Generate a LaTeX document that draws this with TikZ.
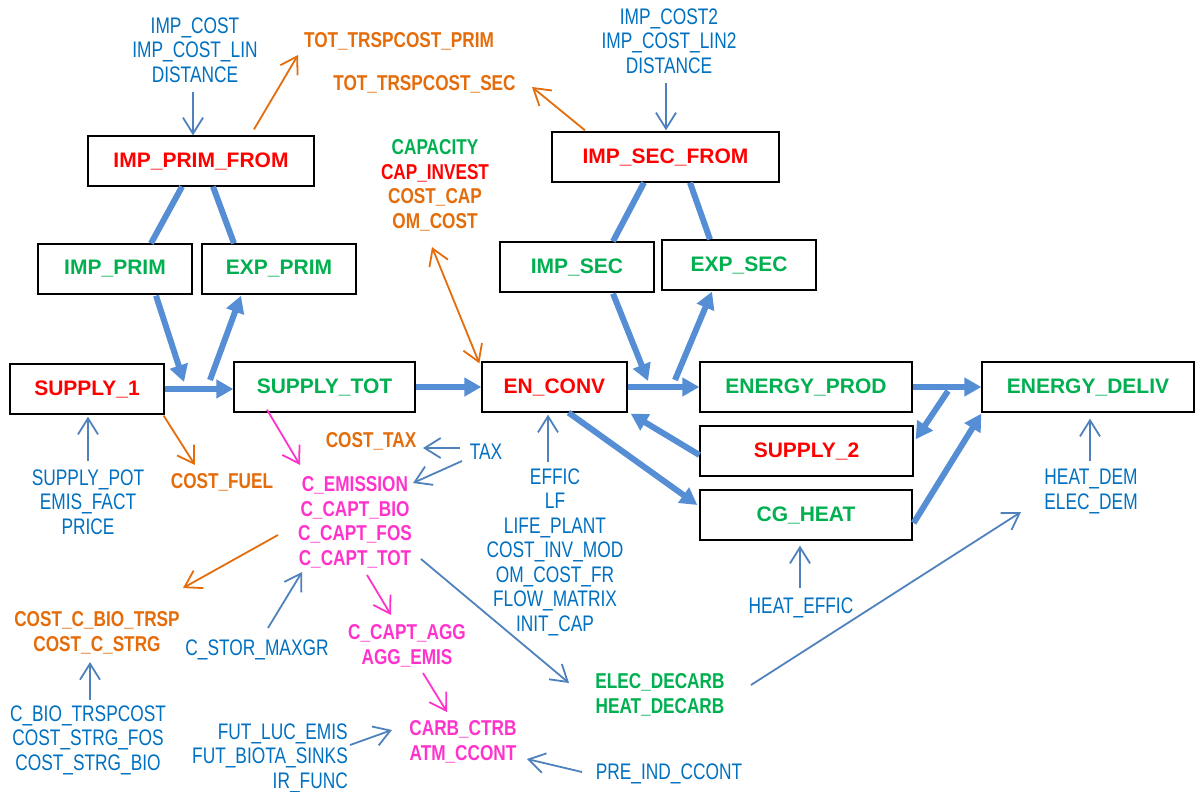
\documentclass[tikz,border=0pt]{standalone}
\usepackage{fontspec}
\setmainfont{Liberation Sans}
\newfontfamily\narrowsans{Liberation Sans}[FakeStretch=0.8]
\newfontfamily\slimsans{Liberation Sans}[FakeStretch=0.77]
\usetikzlibrary{arrows.meta,calc}

\definecolor{flowblue}{RGB}{85,142,213}
\definecolor{linkblue}{RGB}{79,129,189}
\definecolor{parblue}{RGB}{0,112,192}
\definecolor{vargreen}{RGB}{0,176,80}
\definecolor{varred}{RGB}{255,0,0}
\definecolor{costorange}{RGB}{228,108,10}
\definecolor{carbpink}{RGB}{255,51,204}

\tikzset{
  box/.style={draw=black, line width=1.3pt, minimum height=50pt, inner sep=0pt,
    font=\fontsize{21}{24}\selectfont\bfseries},
  lbl/.style={inner sep=0pt, anchor=north, align=center,
    font=\slimsans\fontsize{22.5}{24.5}\selectfont},
  param/.style={lbl, text=parblue},
  outv/.style={lbl, font=\narrowsans\fontsize{21.5}{24.5}\selectfont\bfseries},
  mainlink/.style={draw=flowblue, line width=6pt},
  mainflow/.style={mainlink, -{Triangle[length=17pt,width=18pt]}},
  thinarr/.style={line width=1.8pt, -{Straight Barb[length=16pt,width=20pt]}},
  parlink/.style={thinarr, draw=linkblue},
  costlink/.style={thinarr, draw=costorange},
  carblink/.style={thinarr, draw=carbpink},
}

\begin{document}
\begin{tikzpicture}[x=1pt,y=-1pt]
\useasboundingbox (0,0) rectangle (1195,792);

% ---- model blocks ----
\node[box, minimum width=226pt, text=varred]   (ipf) at (201,161)   {IMP\_PRIM\_FROM};
\node[box, minimum width=154pt, text=vargreen] (ip)  at (115,269)   {IMP\_PRIM};
\node[box, minimum width=154pt, text=vargreen] (ep)  at (279,269)   {EXP\_PRIM};
\node[box, minimum width=227pt, text=varred]   (isf) at (665.5,157) {IMP\_SEC\_FROM};
\node[box, minimum width=154pt, text=vargreen] (is)  at (577,267)   {IMP\_SEC};
\node[box, minimum width=154pt, text=vargreen] (es)  at (739,265)   {EXP\_SEC};
\node[box, minimum width=154pt, text=varred]   (s1)  at (87,389)    {SUPPLY\_1};
\node[box, minimum width=181pt, text=vargreen] (st)  at (324.5,387) {SUPPLY\_TOT};
\node[box, minimum width=145pt, text=varred]   (ec)  at (554.5,387) {EN\_CONV};
\node[box, minimum width=212pt, text=vargreen] (epr) at (806,387)   {ENERGY\_PROD};
\node[box, minimum width=213pt, text=varred]   (s2)  at (806.5,451) {SUPPLY\_2};
\node[box, minimum width=212pt, text=vargreen] (cg)  at (806,515)   {CG\_HEAT};
\node[box, minimum width=212pt, text=vargreen] (ed)  at (1088,387)  {ENERGY\_DELIV};

% ---- parameters and derived variables ----
\node[param] (impcost) at (195,17.3) {IMP\_COST\\IMP\_COST\_LIN\\DISTANCE};
\node[outv, text=costorange] (trspprim) at (399,32.3) {TOT\_TRSPCOST\_PRIM};
\node[outv, text=costorange] (trspsec) at (424.5,75.3) {TOT\_TRSPCOST\_SEC};
\node[outv] (capblock) at (435,139.3) {\textcolor{vargreen}{CAPACITY}\\\textcolor{varred}{CAP\_INVEST}\\\textcolor{costorange}{COST\_CAP}\\\textcolor{costorange}{OM\_COST}};
\node[param] (impcost2) at (669,8.3) {IMP\_COST2\\IMP\_COST\_LIN2\\DISTANCE};
\node[param] (supplypot) at (88,469.3) {SUPPLY\_POT\\EMIS\_FACT\\PRICE};
\node[outv, text=costorange] (costfuel) at (222,473.3) {COST\_FUEL};
\node[outv, text=costorange] (costtax) at (371,432.3) {COST\_TAX};
\node[param] (tax) at (486,444.3) {TAX};
\node[outv, text=carbpink] (cemis) at (355,476.3) {C\_EMISSION\\C\_CAPT\_BIO\\C\_CAPT\_FOS\\C\_CAPT\_TOT};
\node[param] (effic) at (555,468.3) {EFFIC\\LF\\LIFE\_PLANT\\COST\_INV\_MOD\\OM\_COST\_FR\\FLOW\_MATRIX\\INIT\_CAP};
\node[param] (heateffic) at (801,597.3) {HEAT\_EFFIC};
\node[param] (heatdem) at (1091,469.3) {HEAT\_DEM\\ELEC\_DEM};
\node[outv, text=costorange] (costcbio) at (97,611.3) {COST\_C\_BIO\_TRSP\\COST\_C\_STRG};
\node[param] (cstor) at (257,639.3) {C\_STOR\_MAXGR};
\node[outv, text=carbpink] (ccaptagg) at (407,624.3) {C\_CAPT\_AGG\\AGG\_EMIS};
\node[param] (cbiotrsp) at (88,705.3) {C\_BIO\_TRSPCOST\\COST\_STRG\_FOS\\COST\_STRG\_BIO};
\node[param, anchor=north east, align=right] (futluc) at (348,723.3) {FUT\_LUC\_EMIS\\FUT\_BIOTA\_SINKS\\IR\_FUNC};
\node[outv, text=carbpink] (carbctrb) at (463,720.3) {CARB\_CTRB\\ATM\_CCONT};
\node[outv, text=vargreen] (elecdecarb) at (660,673.3) {ELEC\_DECARB\\HEAT\_DECARB};
\node[param] (preind) at (669,763.3) {PRE\_IND\_CCONT};

% ---- junction points on the main flows ----
\coordinate (m1) at (184,382);
\coordinate (m2) at (210,380);
\coordinate (m3) at (648,381);
\coordinate (m4) at (675,380);
\coordinate (m5) at (948,391);

% ---- energy flows ----
\draw[mainlink] ($(ipf.south)+(-19,0)$) -- ($(ip.north)+(36,0)$);
\draw[mainlink] ($(ipf.south)+(12,0)$) -- ($(ep.north)+(-45,0)$);
\draw[mainflow] ($(ip.south)+(41,1)$) -- (m1);
\draw[mainflow] (m2) -- ($(ep.south)+(-38,1)$);
\draw[mainflow] (s1.east) -- (s1.east -| st.west);
\draw[mainflow] (st.east) -- (ec.west);
\draw[mainflow] (ec.east) -- (epr.west);
\draw[mainlink] ($(isf.south)+(-21.5,0)$) -- ($(is.north)+(36,0)$);
\draw[mainlink] ($(isf.south)+(24.5,0)$) -- ($(es.north)+(-29,0)$);
\draw[mainflow] ($(is.south)+(36,1)$) -- (m3);
\draw[mainflow] (m4) -- ($(es.south)+(-27,1)$);
\draw[mainflow] (epr.east) -- (ed.west);
\draw[mainflow] (m5) -- ($(s2.north east)+(2,14)$);
\draw[mainflow] ($(s2.west)+(0,4)$) -- ($(ec.south east)+(3,1)$);
\draw[mainflow] ($(ec.south)+(14,0)$) -- ($(cg.west)+(-2,-10)$);
\draw[mainflow] ($(cg.east)+(1,8)$) -- ($(ed.south west)+(0,1)$);

% ---- parameter links ----
\draw[parlink] ($(impcost.north)+(-2,74.7)$) -- ($(ipf.north)+(-8,0)$);
\draw[parlink] ($(impcost2.north)+(-3,74.7)$) -- ($(isf.north)+(0.5,-1)$);
\draw[parlink] ($(supplypot.north)+(0,-8.3)$) -- ($(s1.south)+(1,2)$);
\draw[parlink] ($(effic.north)+(-7,-6.3)$) -- ($(ec.south)+(-6.5,2)$);
\draw[parlink] ($(heateffic.north)+(-1,-9.3)$) -- ($(cg.south)+(-6,5)$);
\draw[parlink] ($(heatdem.north)+(-1,-8.3)$) -- ($(ed.south)+(2,6)$);
\draw[parlink] ($(tax.north)+(-26,3.7)$) -- ($(costtax.north)+(52,15.7)$);
\draw[parlink] ($(tax.north)+(-24,16.7)$) -- ($(cemis.north)+(58,6.7)$);
\draw[parlink] ($(cstor.north)+(11,-11.3)$) -- ($(cemis.north)+(-53,95.7)$);
\draw[parlink] ($(cbiotrsp.north)+(2,-5.3)$) -- ($(costcbio.north)+(-7,50.7)$);
\draw[parlink] ($(futluc.north east)+(2,21.7)$) -- ($(carbctrb.north)+(-71,9.7)$);
\draw[parlink] ($(preind.north)+(-87,8.7)$) -- ($(carbctrb.north)+(64,38.7)$);
\draw[parlink] ($(cemis.north)+(66,82.7)$) -- ($(elecdecarb.north)+(-91,9.7)$);
\draw[parlink] ($(elecdecarb.north)+(91,11.7)$) -- ($(heatdem.north)+(-70,42.7)$);

% ---- cost links ----
\draw[costlink] ($(ipf.north)+(53,-6)$) -- ($(trspprim.north)+(-101,22.7)$);
\draw[costlink] ($(isf.north)+(-80.5,-1)$) -- ($(trspsec.north)+(107.5,11.7)$);
\draw[costlink, {Straight Barb[length=16pt,width=20pt]}-{Straight Barb[length=16pt,width=20pt]}] ($(capblock.north)+(-3,107.7)$) -- ($(ec.north west)+(-2,2)$);
\draw[costlink] ($(s1.south east)+(-1,1)$) -- ($(costfuel.north)+(-27,-8.3)$);
\draw[costlink] ($(cemis.north)+(-77,58.7)$) -- ($(costcbio.north)+(86,-23.3)$);

% ---- carbon links ----
\draw[carblink] ($(st.south)+(-57.5,-3)$) -- ($(cemis.north)+(-55,-11.3)$);
\draw[carblink] ($(cemis.north)+(12,98.7)$) -- ($(ccaptagg.north)+(-16,-9.3)$);
\draw[carblink] ($(ccaptagg.north)+(16,48.7)$) -- ($(carbctrb.north)+(-16,-8.3)$);
\end{tikzpicture}
\end{document}
